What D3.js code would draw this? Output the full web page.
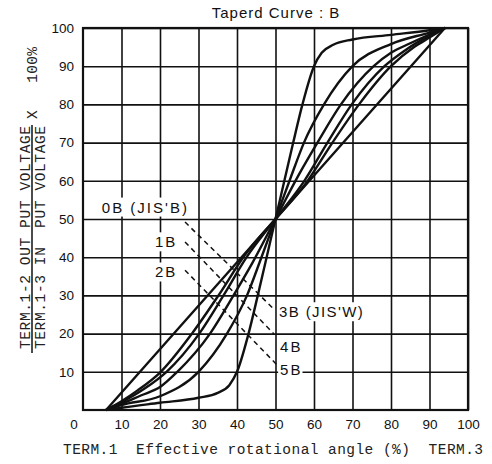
<!DOCTYPE html>
<meta charset="utf-8">
<style>
  body { margin: 0; background: #fff; }
  .grid line { stroke: #111; stroke-width: 1.6px; }
  .grid text { font-family: "Liberation Sans", Arial, sans-serif; font-size: 13.5px; fill: #111; }
  .curve { fill: none; stroke: #111; stroke-width: 2.4px; stroke-linejoin: round; }
  .lead { stroke: #111; stroke-width: 1.5px; stroke-dasharray: 5 4; }
  .lbl { font-family: "Liberation Sans", Arial, sans-serif; font-size: 15px; fill: #111; }
  .typ { font-family: "Liberation Mono", "Courier New", monospace; font-size: 14.5px; fill: #222; white-space: pre; }
</style>
<body>
<script src="https://cdn.jsdelivr.net/npm/d3@7"></script>
<script>
// tick values
var xTicks = [10, 20, 30, 40, 50, 60, 70, 80, 90, 100];
var yTicks = [10, 20, 30, 40, 50, 60, 70, 80, 90, 100];

// curves: [angle %, output %]
var curve0B = [[6, 0], [50, 50], [94, 100]];
var curve1B = [[6, 0], [10, 2.3], [14, 5], [20, 9.8], [28.3, 20], [35.2, 30], [42, 40.5], [50, 50],
               [58, 59.5], [64.8, 70], [71.7, 80], [80, 90], [86, 95], [90, 97.5], [94, 100]];
var curve2B = [[6, 0], [10, 2], [16, 5.6], [21.7, 10], [30.2, 20], [36.5, 30], [42.5, 40], [50, 50],
               [57.5, 60], [63.5, 70], [69.8, 80], [78.3, 90], [84, 94.4], [90, 98], [94, 100]];
var curve3B = [[6, 0], [10, 1.6], [15, 3.8], [20, 6], [24.5, 10], [33, 20], [39.1, 30], [44, 38.5], [50, 50],
               [56, 61.5], [60.9, 70], [67, 80], [75.5, 90], [80, 93.5], [85, 96], [90, 98.3], [94, 100]];
var curve4B = [[6, 0], [10, 1.3], [20, 3.6], [30, 10], [37.4, 20], [42.6, 30], [46, 39], [50, 50],
               [54, 61], [57.4, 70], [62.6, 80], [70, 90], [80, 95.8], [90, 98.8], [94, 100]];
var curve5B = [[6, 0], [10, 0.6], [20, 1.9], [30, 3.2], [35, 4.5], [38, 6.5], [40, 10], [43, 20], [45.4, 30],
               [47.7, 40], [50, 50], [52.3, 60], [54.6, 70], [57, 80], [60, 90], [62, 93.5], [65, 95.6],
               [70, 97], [80, 98.2], [90, 99.4], [94, 100]];
var curves = [curve0B, curve1B, curve2B, curve3B, curve4B, curve5B];

// curve labels and their dashed leaders (in chart units)
var labelText = ["0B (JIS'B)", "1B", "2B", "3B (JIS'W)", "4B", "5B"];
var labelPos = [[4.9, 53.1], [18.7, 44], [18.7, 36.1], [50.9, 25.7], [51.2, 16.5], [51.2, 10.5]];
var leaders = [[[26.5, 49.2], [49.6, 26.4]],
               [[26.5, 44.0], [49.6, 19.9]],
               [[26.5, 36.6], [50.4, 11.8]]];

var width = 492, height = 464;
var x = d3.scaleLinear().domain([0, 100]).range([83, 468]);
var y = d3.scaleLinear().domain([0, 100]).range([410, 28]);

var svg = d3.select("body").append("svg")
    .attr("width", width)
    .attr("height", height);

// grid from the axes
svg.append("g").attr("class", "grid")
    .attr("transform", "translate(0," + y(0) + ")")
    .call(d3.axisBottom(x).tickValues(xTicks).tickSize(-(y(0) - y(100))).tickPadding(9));
svg.append("g").attr("class", "grid")
    .attr("transform", "translate(" + x(0) + ",0)")
    .call(d3.axisLeft(y).tickValues(yTicks).tickSize(-(x(100) - x(0))).tickPadding(9));
svg.selectAll(".grid .domain").remove();

svg.append("rect")
    .attr("x", x(0)).attr("y", y(100))
    .attr("width", x(100) - x(0)).attr("height", y(0) - y(100))
    .attr("fill", "none").attr("stroke", "#111").attr("stroke-width", 2.2);

svg.append("text").attr("class", "lbl")
    .attr("x", x(0) - 9).attr("y", y(0) + 19)
    .attr("text-anchor", "middle").style("font-size", "13.5px")
    .text("0");

// labels with white boxes that knock out the grid
var lg = svg.append("g");
labelText.forEach(function(t, i) {
  var tx = lg.append("text").attr("class", "lbl")
      .attr("x", x(labelPos[i][0])).attr("y", y(labelPos[i][1]))
      .attr("dy", "0.36em")
      .style("letter-spacing", i == 3 ? "1.4px" : "2px")
      .text(t);
  var b = tx.node().getBBox();
  lg.insert("rect", "text")
      .attr("x", b.x - 2).attr("y", b.y - 1)
      .attr("width", b.width + 2).attr("height", b.height + 2)
      .attr("fill", "#fff");
});

svg.selectAll(".lead")
    .data(leaders)
  .enter().append("line")
    .attr("class", "lead")
    .attr("x1", function(d) { return x(d[0][0]); })
    .attr("y1", function(d) { return y(d[0][1]); })
    .attr("x2", function(d) { return x(d[1][0]); })
    .attr("y2", function(d) { return y(d[1][1]); });

var line = d3.line()
    .x(function(d) { return x(d[0]); })
    .y(function(d) { return y(d[1]); })
    .curve(d3.curveMonotoneX);

svg.selectAll(".curve")
    .data(curves)
  .enter().append("path")
    .attr("class", "curve")
    .attr("d", line);

// titles
svg.append("text").attr("class", "lbl")
    .attr("x", 276).attr("y", 18)
    .attr("text-anchor", "middle")
    .style("letter-spacing", "1px")
    .text("Taperd Curve : B");

svg.append("text").attr("class", "typ")
    .attr("x", 63).attr("y", 454)
    .attr("textLength", 420).attr("lengthAdjust", "spacing")
    .text("TERM.1  Effective rotational angle (%)  TERM.3");

svg.append("text").attr("class", "typ")
    .attr("transform", "translate(30,349) rotate(-90)")
    .attr("textLength", 223).attr("lengthAdjust", "spacing")
    .text("TERM.1-2 OUT PUT VOLTAGE");
svg.append("line")
    .attr("x1", 32).attr("x2", 32).attr("y1", 353).attr("y2", 125)
    .attr("stroke", "#111").attr("stroke-width", 1.5);
svg.append("text").attr("class", "typ")
    .attr("transform", "translate(45,349) rotate(-90)")
    .attr("textLength", 223).attr("lengthAdjust", "spacing")
    .text("TERM.1-3 IN  PUT VOLTAGE");
svg.append("text").attr("class", "typ")
    .attr("transform", "translate(37,119) rotate(-90)")
    .attr("textLength", 72).attr("lengthAdjust", "spacing")
    .text("X   100%");
</script>
</body>
</html>
